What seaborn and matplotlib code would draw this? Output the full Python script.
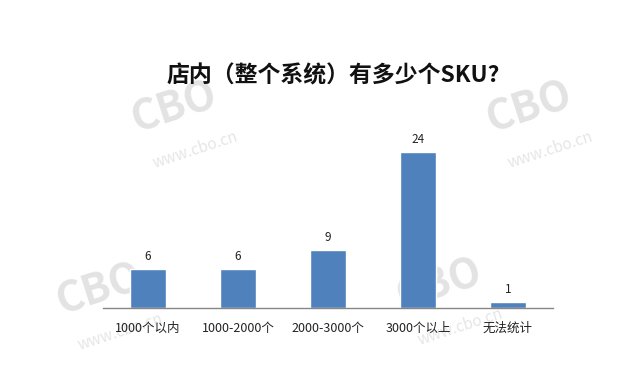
import matplotlib
matplotlib.use("Agg")
import matplotlib.pyplot as plt
import seaborn as sns
import pandas as pd

# Chart data
categories = ["1000个以内", "1000-2000个", "2000-3000个", "3000个以上", "无法统计"]
counts = [6, 6, 9, 24, 1]
title = "店内（整个系统）有多少个SKU?"

df = pd.DataFrame({"range": categories, "count": counts})

sns.set_style("white")
plt.rcParams["font.family"] = ["Noto Sans CJK SC", "DejaVu Sans"]

fig = plt.figure(figsize=(6.4, 3.89), dpi=100)

# Background layer for the faint watermarks (behind the bars)
bg = fig.add_axes([0, 0, 1, 1], zorder=0)
bg.set_axis_off()
bg.set_xlim(0, 640)
bg.set_ylim(389, 0)
for x, y in [(175, 108), (530, 108), (100, 290), (440, 285)]:
    bg.text(x, y, "CBO", fontsize=30, fontweight="bold", color="#e3e3e3",
            rotation=18, ha="center", va="center")
    bg.text(x + 20, y + 42, "www.cbo.cn", fontsize=11, color="#e6e6e6",
            rotation=18, ha="center", va="center")

ax = fig.add_axes([0.161, 0.208, 0.703, 0.451], zorder=1)
ax.patch.set_alpha(0)

sns.barplot(data=df, x="range", y="count", color="#4F81BD", width=0.4,
            saturation=1, ax=ax)

for i, v in enumerate(counts):
    ax.text(i, v + 0.9, str(v), ha="center", va="bottom", fontsize=8.5,
            color="#222222")

ax.set_ylim(0, 27)
ax.set_xlim(-0.5, len(categories) - 0.5)
ax.set_xlabel("")
ax.set_ylabel("")
ax.set_yticks([])
ax.tick_params(axis="x", length=0, pad=10, labelsize=9, colors="#222222")
for s in ["top", "right", "left"]:
    ax.spines[s].set_visible(False)
ax.spines["bottom"].set_color("#868686")
ax.spines["bottom"].set_linewidth(1)

fig.text(0.52, 0.805, title, ha="center", va="center", fontsize=16.5,
         fontweight="bold", color="#111111", zorder=2)

fig.savefig("out.png", dpi=100)
